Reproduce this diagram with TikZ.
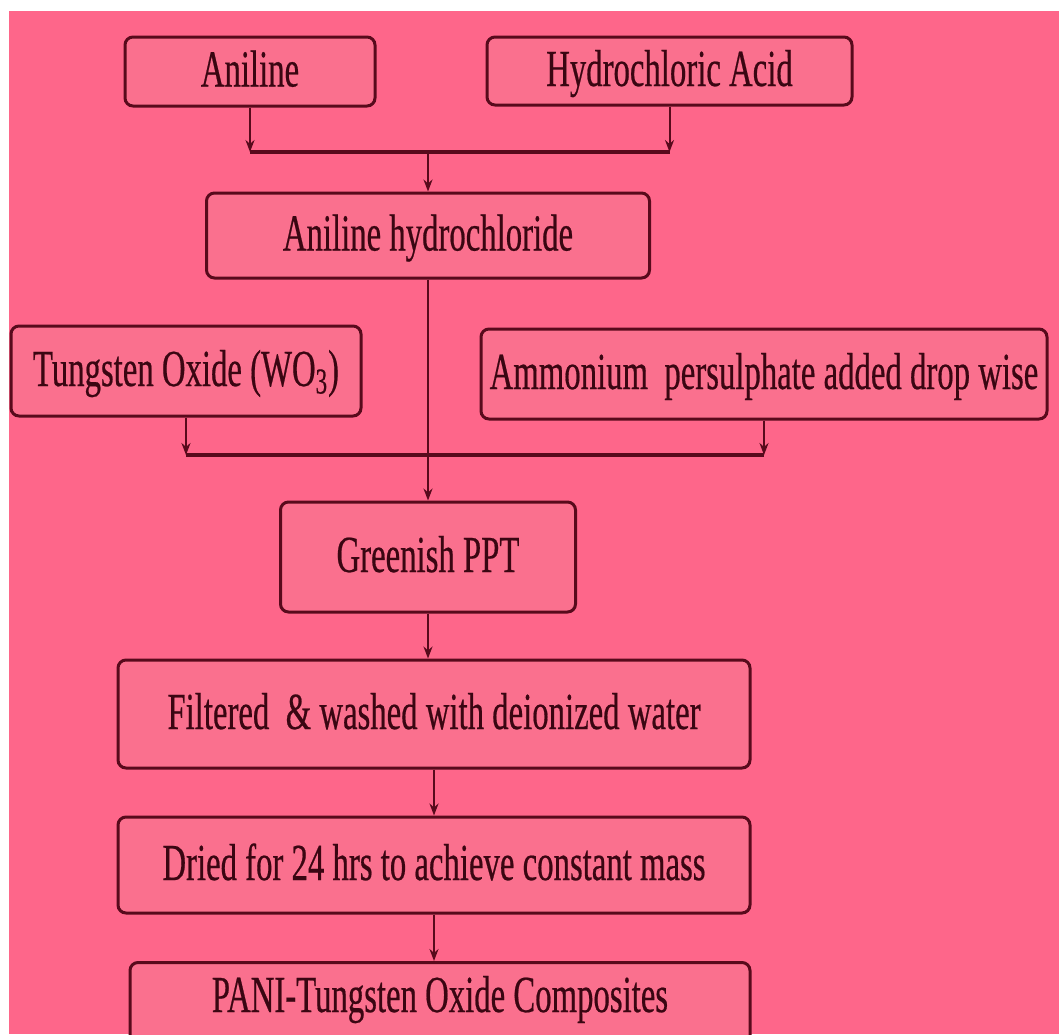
\documentclass[tikz,border=0pt]{standalone}
\usepackage{fontspec}
\setmainfont{Liberation Serif}[FakeStretch=0.63,FakeBold=0.4]
\usetikzlibrary{arrows.meta,calc}
\definecolor{bgpink}{RGB}{254,102,138}
\definecolor{boxpink}{RGB}{250,112,142}
\definecolor{linec}{RGB}{88,10,28}
\definecolor{txtc}{RGB}{58,6,18}
\begin{document}
\begin{tikzpicture}[x=0.5pt,y=-0.5pt,
  box/.style={draw=linec, line width=1.5pt, rounded corners=4pt, fill=boxpink,
    text=txtc, font=\fontsize{26}{30}\selectfont, inner sep=0pt,
    text height=20pt, text depth=5pt},
  txt/.style={text=txtc, font=\fontsize{26}{30}\selectfont, inner sep=0pt,
    text height=20pt, text depth=5pt},
  conn/.style={draw=linec, line width=1pt, -{Stealth[length=6pt,width=4.5pt]}},
  junctionline/.style={draw=linec, line width=1.6pt}]
\useasboundingbox (0,0) rectangle (1059,1034);
\clip (0,0) rectangle (1059,1034);
\fill[white] (0,0) rectangle (1059,1034);
\fill[bgpink] (9,11) rectangle (1059,1034);

\node[box, minimum width=125pt, minimum height=34.5pt] (A) at (250,71.5) {Aniline};
\node[box, minimum width=182.5pt, minimum height=34pt] (H) at (669.5,71) {Hydrochloric Acid};
\node[box, minimum width=221.5pt, minimum height=42.5pt] (AH) at (428,235.5) {Aniline hydrochloride};
\node[box, minimum width=175pt, minimum height=45pt] (W) at (186,371) {Tungsten Oxide (WO\textsubscript{3})};
\node[box, minimum width=283pt, minimum height=45pt] (AP) at (764,374) {Ammonium\ \ persulphate added drop wise};
\node[box, minimum width=147.5pt, minimum height=55pt] (G) at (428,557) {Greenish PPT};
\node[box, minimum width=316pt, minimum height=54pt] (F) at (434,714) {Filtered\ \ \& washed with deionized water};
\node[box, minimum width=316pt, minimum height=48pt] (D) at (434,865) {Dried for 24\ hrs to achieve constant mass};
\node[box, minimum width=310pt, minimum height=52pt, anchor=north] (P) at (440,961) {};
\node[txt] (Pt) at (440,997) {PANI-Tungsten Oxide Composites};

\coordinate (j1) at (428,152);
\coordinate (j2) at (428,455);

\draw[junctionline] (A.south |- j1) -- (H.south |- j1);
\draw[conn] (A.south) -- (A.south |- j1);
\draw[conn] (H.south) -- (H.south |- j1);
\draw[conn] (j1) -- (AH.north);

\draw[junctionline] (W.south |- j2) -- (AP.south |- j2);
\draw[conn] (W.south) -- (W.south |- j2);
\draw[conn] (AP.south) -- (AP.south |- j2);
\draw[conn] (AH.south) -- (G.north);

\draw[conn] (G.south) -- (G.south |- F.north);
\draw[conn] (F.south) -- (D.north);
\draw[conn] (D.south) -- (D.south |- P.north);
\end{tikzpicture}
\end{document}
